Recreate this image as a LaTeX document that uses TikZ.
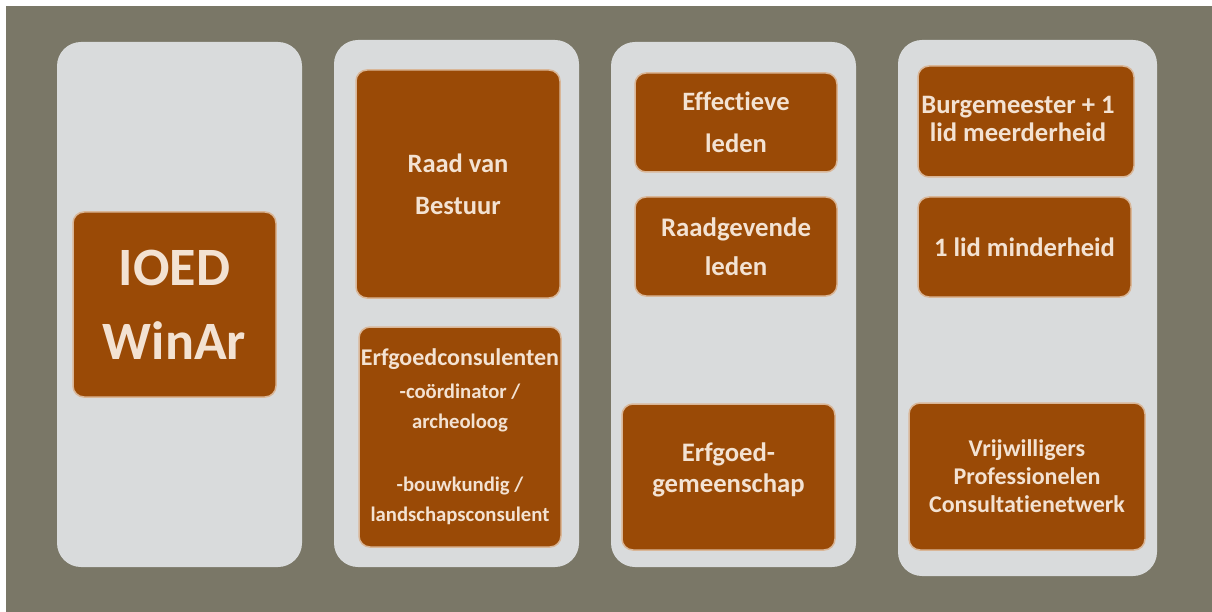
\documentclass[tikz,border=0pt]{standalone}
\usepackage{fontspec}
\setmainfont[Ligatures={NoCommon}]{Carlito}
\definecolor{bgolive}{HTML}{7A7767}
\definecolor{colgray}{HTML}{D9DBDC}
\definecolor{boxbrown}{HTML}{9A4A06}
\definecolor{boxedge}{HTML}{D9B697}
\definecolor{txt}{HTML}{F3E2D2}
\tikzset{
  column/.style={fill=colgray, rounded corners=24pt, inner sep=0pt},
  unit/.style={fill=boxbrown, draw=boxedge, line width=1.5pt, rounded corners=11pt,
    inner sep=0pt, text=txt, align=center},
  utext/.style={text=txt, align=center, inner sep=0pt},
}
\newcommand{\fs}[2]{\fontsize{#1}{#2}\selectfont\bfseries}
\begin{document}
\begin{tikzpicture}[x=1pt,y=-1pt]
\useasboundingbox (0,0) rectangle (1212,612);
\fill[white] (0,0) rectangle (1212,612);
\fill[bgolive] (6,6) rectangle (1212,612);

% columns
\node[column, minimum width=245pt, minimum height=525pt] (c1) at (179.5,304.5) {};
\node[column, minimum width=245pt, minimum height=527pt] (c2) at (456.5,303.5) {};
\node[column, minimum width=245pt, minimum height=525pt] (c3) at (733.5,304.5) {};
\node[column, minimum width=259pt, minimum height=536pt] (c4) at (1027.5,308) {};

% column 1
\node[unit, minimum width=203pt, minimum height=185pt, font=\fs{54}{74}] (ioed) at (174.5,304.5) {IOED\\WinAr};

% column 2
\node[unit, minimum width=204pt, minimum height=228pt, font=\fs{26.5}{42}] (raad) at (458,184) {Raad van\\Bestuur};
\node[unit, minimum width=202pt, minimum height=220pt, font=\fs{20.7}{30}] (erfc) at (460,437)
  {{\fs{24}{30}Erfgoedconsulenten}\\[3pt]-coördinator /\\archeoloog\\[33pt]-bouwkundig /\\landschapsconsulent};

% column 3
\node[unit, minimum width=202pt, minimum height=99pt, font=\fs{26.5}{42}] (eff) at (736,122.5) {Effectieve\\leden};
\node[unit, minimum width=202pt, minimum height=99pt, font=\fs{26.8}{39}] (rgv) at (736,246.5) {Raadgevende\\leden};
\node[unit, minimum width=213pt, minimum height=146pt] (egm) at (728.5,477) {};
\node[utext, font=\fs{26.7}{31}] (egmtext) at (728.5,470) {Erfgoed-\\gemeenschap};

% column 4
\node[unit, minimum width=216pt, minimum height=111pt] (burg) at (1026,121.5) {};
\node[utext, font=\fs{26.6}{28}] (burgtext) at (1018,119) {Burgemeester + 1\\lid meerderheid};
\node[unit, minimum width=213pt, minimum height=100pt, font=\fs{26.6}{30}] (lid1) at (1024.5,247) {1 lid minderheid};
\node[unit, minimum width=236pt, minimum height=147pt, font=\fs{24}{28}] (vrij) at (1027,476.5)
  {Vrijwilligers\\Professionelen\\Consultatienetwerk};
\end{tikzpicture}
\end{document}
